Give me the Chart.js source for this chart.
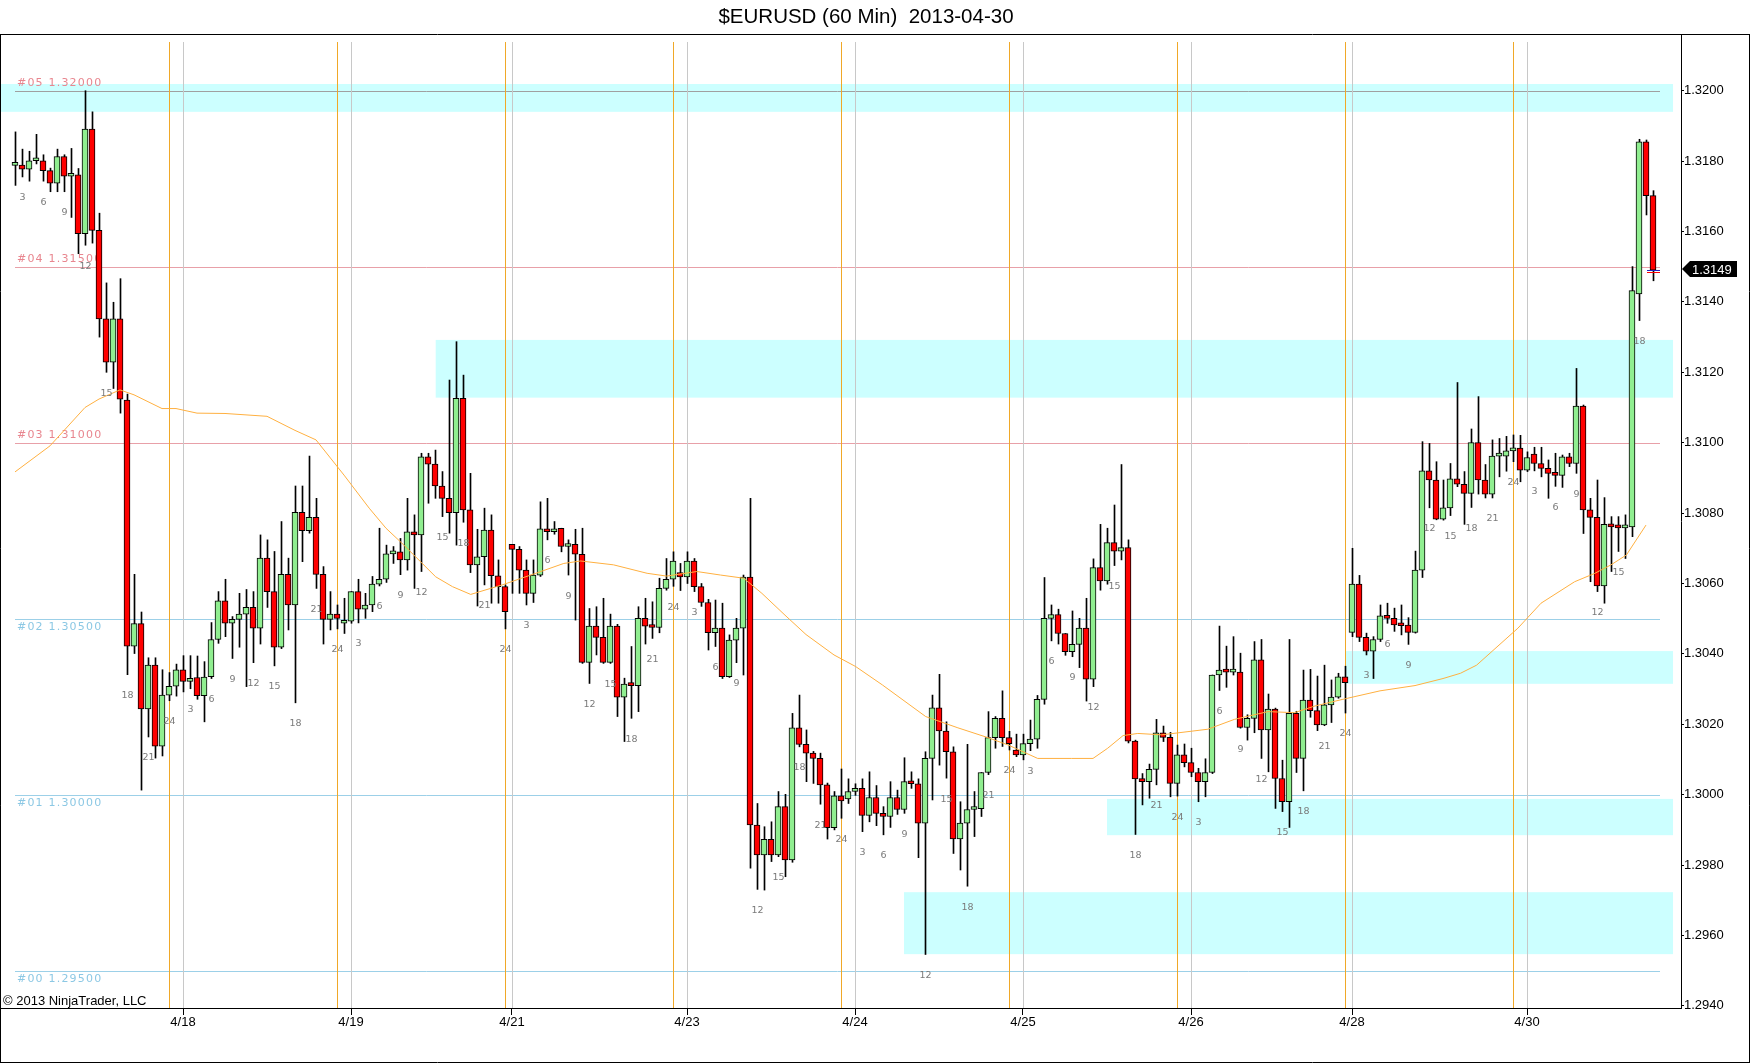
<!DOCTYPE html>
<html><head><meta charset="utf-8">
<script src="https://cdn.jsdelivr.net/npm/chart.js@4.4.1/dist/chart.umd.min.js"></script>
<style>html,body{margin:0;padding:0;background:#fff;overflow:hidden}canvas{display:block}</style>
</head><body>
<canvas id="c" width="1752" height="1064"></canvas>
<script>
const chartTitle = '$EURUSD (60 Min)  2013-04-30';
const copyrightText = '\u00A9 2013 NinjaTrader, LLC';
const firstHour = 2;
const opens = [1.31788,1.31789,1.31777,1.31801,1.31801,1.31773,1.31737,1.31813,1.31757,1.31761,1.31594,1.31891,1.31603,1.31352,1.31229,1.31352,1.31121,1.30422,1.30486,1.30244,1.30368,1.30138,1.30283,1.30308,1.30355,1.30322,1.30333,1.30281,1.30335,1.30441,1.30551,1.30487,1.30498,1.30513,1.30532,1.30473,1.30672,1.30577,1.30419,1.30626,1.30539,1.30802,1.30750,1.30788,1.30626,1.30498,1.30513,1.30487,1.30493,1.30577,1.30527,1.30539,1.30598,1.30612,1.30684,1.30690,1.30667,1.30747,1.30738,1.30960,1.30939,1.30877,1.30842,1.30801,1.31126,1.30809,1.30653,1.30676,1.30752,1.30622,1.30591,1.30711,1.30697,1.30638,1.30572,1.30624,1.30755,1.30747,1.30757,1.30705,1.30711,1.30683,1.30376,1.30479,1.30447,1.30376,1.30479,1.30277,1.30314,1.30310,1.30501,1.30479,1.30475,1.30586,1.30612,1.30631,1.30619,1.30664,1.30591,1.30546,1.30460,1.30473,1.30335,1.30439,1.30473,1.30618,1.29914,1.29829,1.29873,1.29829,1.29966,1.29815,1.30190,1.30143,1.30118,1.30103,1.30028,1.29906,1.29997,1.29988,1.30009,1.30018,1.29941,1.29992,1.29947,1.29938,1.29992,1.29958,1.30037,1.30031,1.29919,1.30103,1.30247,1.30181,1.30122,1.29874,1.29919,1.29958,1.29960,1.30063,1.30162,1.30217,1.30162,1.30127,1.30113,1.30145,1.30158,1.30271,1.30501,1.30512,1.30458,1.30406,1.30427,1.30473,1.30328,1.30645,1.30607,1.30716,1.30692,1.30702,1.30152,1.30044,1.30037,1.30072,1.30176,1.30163,1.30032,1.30113,1.30091,1.30063,1.30037,1.30063,1.30340,1.30354,1.30348,1.30348,1.30191,1.30217,1.30383,1.30184,1.30243,1.30046,1.29980,1.30231,1.30103,1.30269,1.30239,1.30198,1.30255,1.30277,1.30335,1.30461,1.30598,1.30447,1.30408,1.30441,1.30508,1.30501,1.30482,1.30482,1.30461,1.30638,1.30920,1.30894,1.30783,1.30815,1.30897,1.30882,1.30856,1.31000,1.30894,1.30854,1.30962,1.30962,1.30977,1.30985,1.30922,1.30968,1.30941,1.30927,1.30913,1.30907,1.30960,1.30941,1.31104,1.30809,1.30788,1.30593,1.30768,1.30763,1.30758,1.30761,1.31423,1.31855,1.31702];
const highs = [1.31883,1.31834,1.31828,1.31876,1.31818,1.31780,1.31834,1.31818,1.31836,1.31779,1.32000,1.31940,1.31652,1.31454,1.31399,1.31466,1.31138,1.30626,1.30519,1.30389,1.30389,1.30355,1.30347,1.30371,1.30395,1.30395,1.30394,1.30378,1.30489,1.30577,1.30612,1.30506,1.30572,1.30583,1.30577,1.30738,1.30724,1.30691,1.30776,1.30672,1.30877,1.30877,1.30962,1.30842,1.30648,1.30577,1.30539,1.30558,1.30577,1.30612,1.30572,1.30620,1.30757,1.30709,1.30705,1.30728,1.30842,1.30795,1.30970,1.30970,1.30979,1.30918,1.31178,1.31287,1.31192,1.30913,1.30754,1.30814,1.30795,1.30667,1.30596,1.30711,1.30705,1.30667,1.30667,1.30832,1.30842,1.30776,1.30757,1.30724,1.30754,1.30757,1.30529,1.30534,1.30558,1.30513,1.30484,1.30331,1.30421,1.30534,1.30558,1.30548,1.30615,1.30671,1.30690,1.30657,1.30690,1.30671,1.30600,1.30555,1.30553,1.30544,1.30454,1.30501,1.30624,1.30842,1.29975,1.29909,1.29923,1.30009,1.30001,1.30231,1.30283,1.30184,1.30123,1.30118,1.30033,1.30009,1.30073,1.30045,1.30031,1.30045,1.30065,1.30026,1.29966,1.30037,1.30013,1.30105,1.30065,1.30045,1.30122,1.30283,1.30342,1.30207,1.30136,1.29980,1.30143,1.30009,1.30063,1.30236,1.30222,1.30295,1.30180,1.30172,1.30172,1.30212,1.30282,1.30617,1.30539,1.30527,1.30458,1.30522,1.30501,1.30558,1.30670,1.30768,1.30757,1.30823,1.30938,1.30724,1.30155,1.30060,1.30087,1.30214,1.30195,1.30177,1.30141,1.30144,1.30132,1.30075,1.30102,1.30340,1.30479,1.30422,1.30449,1.30402,1.30227,1.30435,1.30441,1.30286,1.30246,1.30098,1.30441,1.30237,1.30354,1.30356,1.30337,1.30368,1.30326,1.30345,1.30365,1.30700,1.30623,1.30459,1.30449,1.30539,1.30544,1.30530,1.30539,1.30503,1.30692,1.31003,1.30998,1.30946,1.30894,1.30941,1.31171,1.30918,1.31039,1.31131,1.30938,1.31008,1.31012,1.31018,1.31022,1.31021,1.30974,1.30987,1.30987,1.30951,1.30970,1.30965,1.30970,1.31211,1.31107,1.30842,1.30894,1.30844,1.30790,1.30790,1.30795,1.31500,1.31862,1.31860,1.31716];
const lows = [1.31731,1.31755,1.31743,1.31792,1.31743,1.31713,1.31713,1.31713,1.31640,1.31537,1.31561,1.31567,1.31300,1.31200,1.31154,1.31084,1.30341,1.30401,1.30013,1.30164,1.30104,1.30110,1.30267,1.30280,1.30292,1.30301,1.30271,1.30207,1.30330,1.30430,1.30449,1.30387,1.30419,1.30307,1.30375,1.30428,1.30532,1.30366,1.30415,1.30468,1.30261,1.30662,1.30743,1.30586,1.30428,1.30468,1.30471,1.30458,1.30487,1.30488,1.30501,1.30520,1.30593,1.30603,1.30657,1.30625,1.30638,1.30586,1.30634,1.30828,1.30842,1.30790,1.30743,1.30709,1.30774,1.30631,1.30536,1.30596,1.30544,1.30544,1.30471,1.30572,1.30572,1.30539,1.30546,1.30620,1.30724,1.30740,1.30690,1.30624,1.30496,1.30373,1.30316,1.30397,1.30373,1.30373,1.30222,1.30151,1.30217,1.30236,1.30428,1.30444,1.30460,1.30581,1.30592,1.30580,1.30600,1.30577,1.30535,1.30411,1.30421,1.30330,1.30333,1.30375,1.30340,1.29791,1.29731,1.29729,1.29810,1.29824,1.29767,1.29808,1.30136,1.30037,1.30032,1.29973,1.29874,1.29900,1.29933,1.29975,1.29998,1.29895,1.29923,1.29912,1.29886,1.29907,1.29944,1.29947,1.30018,1.29821,1.29546,1.29985,1.30084,1.30047,1.29833,1.29786,1.29740,1.29881,1.29938,1.30057,1.30132,1.30137,1.30127,1.30108,1.30099,1.30125,1.30132,1.30257,1.30437,1.30428,1.30396,1.30392,1.30361,1.30266,1.30307,1.30581,1.30598,1.30651,1.30667,1.30147,1.29887,1.29971,1.29990,1.30028,1.30151,1.29994,1.29996,1.30079,1.30051,1.29980,1.29994,1.30060,1.30296,1.30305,1.30340,1.30189,1.30155,1.30176,1.30103,1.30065,1.29961,1.29952,1.29907,1.30063,1.30011,1.30220,1.30182,1.30196,1.30205,1.30274,1.30232,1.30449,1.30435,1.30397,1.30330,1.30435,1.30487,1.30464,1.30454,1.30427,1.30459,1.30617,1.30815,1.30781,1.30780,1.30793,1.30875,1.30768,1.30816,1.30854,1.30843,1.30843,1.30903,1.30919,1.30946,1.30889,1.30918,1.30920,1.30903,1.30842,1.30876,1.30873,1.30932,1.30913,1.30742,1.30605,1.30577,1.30544,1.30634,1.30691,1.30671,1.30733,1.31347,1.31647,1.31460];
const closes = [1.31790,1.31777,1.31801,1.31802,1.31773,1.31737,1.31813,1.31757,1.31760,1.31594,1.31891,1.31603,1.31352,1.31229,1.31352,1.31124,1.30422,1.30486,1.30244,1.30368,1.30138,1.30283,1.30308,1.30355,1.30322,1.30330,1.30281,1.30334,1.30441,1.30551,1.30487,1.30498,1.30513,1.30532,1.30473,1.30672,1.30577,1.30419,1.30626,1.30539,1.30802,1.30750,1.30788,1.30626,1.30498,1.30513,1.30501,1.30494,1.30577,1.30527,1.30539,1.30598,1.30612,1.30684,1.30690,1.30667,1.30747,1.30738,1.30960,1.30939,1.30877,1.30842,1.30801,1.31126,1.30809,1.30653,1.30676,1.30752,1.30622,1.30591,1.30520,1.30697,1.30638,1.30572,1.30624,1.30755,1.30747,1.30755,1.30705,1.30711,1.30683,1.30376,1.30479,1.30447,1.30376,1.30479,1.30277,1.30314,1.30310,1.30501,1.30479,1.30475,1.30586,1.30612,1.30664,1.30619,1.30664,1.30591,1.30546,1.30460,1.30473,1.30335,1.30439,1.30473,1.30618,1.29914,1.29829,1.29873,1.29829,1.29966,1.29815,1.30190,1.30143,1.30118,1.30103,1.30028,1.29906,1.29997,1.29982,1.30009,1.30018,1.29941,1.29992,1.29947,1.29938,1.29992,1.29958,1.30037,1.30031,1.29919,1.30103,1.30247,1.30181,1.30122,1.29874,1.29919,1.29958,1.29960,1.30063,1.30162,1.30217,1.30162,1.30145,1.30113,1.30145,1.30158,1.30271,1.30501,1.30512,1.30458,1.30406,1.30427,1.30473,1.30328,1.30645,1.30607,1.30716,1.30692,1.30702,1.30152,1.30045,1.30037,1.30072,1.30176,1.30163,1.30032,1.30113,1.30091,1.30063,1.30037,1.30063,1.30340,1.30354,1.30348,1.30350,1.30191,1.30217,1.30383,1.30184,1.30243,1.30046,1.29980,1.30231,1.30103,1.30269,1.30239,1.30198,1.30255,1.30277,1.30335,1.30318,1.30598,1.30447,1.30408,1.30441,1.30508,1.30501,1.30482,1.30480,1.30461,1.30638,1.30920,1.30894,1.30783,1.30815,1.30897,1.30882,1.30856,1.31000,1.30894,1.30854,1.30962,1.30963,1.30977,1.30981,1.30922,1.30958,1.30941,1.30927,1.30913,1.30907,1.30960,1.30941,1.31104,1.30809,1.30788,1.30593,1.30768,1.30761,1.30758,1.30763,1.31432,1.31855,1.31702,1.31490];
const maIndex = [0,5,10,12,15,17,21,23,26,30,36,40,43,47,50.6,53,55.3,60.1,62.5,65.1,69.6,74.4,78.4,80.8,85.5,90.3,93.1,97.4,100.8,104.1,106.7,110,113,117,120.1,123.9,130.1,134.7,139,141.9,146.1,150.9,154,156.1,158.3,160.4,163.8,170.4,174.2,179,182.8,185.7,189.7,195,200,204,206.5,208.8,214.7,218,222.8,225.7,228,230.2,233];
const maValue = [1.30917,1.30991,1.31100,1.31124,1.31150,1.31136,1.31097,1.31097,1.31084,1.31083,1.31075,1.31035,1.31008,1.30908,1.30814,1.30757,1.30714,1.30619,1.30591,1.30569,1.30596,1.30629,1.30657,1.30664,1.30653,1.30629,1.30621,1.30634,1.30624,1.30615,1.30572,1.30510,1.30455,1.30397,1.30364,1.30312,1.30222,1.30190,1.30162,1.30141,1.30103,1.30103,1.30103,1.30132,1.30168,1.30174,1.30170,1.30186,1.30214,1.30236,1.30233,1.30252,1.30271,1.30295,1.30310,1.30330,1.30345,1.30368,1.30473,1.30544,1.30605,1.30629,1.30653,1.30681,1.30766];
const yTicks = [1.2940,1.2960,1.2980,1.3000,1.3020,1.3040,1.3060,1.3080,1.3100,1.3120,1.3140,1.3160,1.3180,1.3200];
const dateTickIndex = [24,48,71,96,120,144,168,191,216];
const dateTickLabels = ['4/18','4/19','4/21','4/23','4/24','4/25','4/26','4/28','4/30'];
const sessionIndex = [22,46,70,94,118,142,166,190,214];
const levelPrices = [1.2950,1.3000,1.3050,1.3100,1.3150,1.3200];
const levelLabels = ['#00 1.29500','#01 1.30000','#02 1.30500','#03 1.31000','#04 1.31500','#05 1.32000'];
const zoneStart = [-2,60.1,190,156,127];
const zoneEnd = [236.86,236.86,236.86,236.86,236.86];
const zoneTop = [1.32019,1.31292,1.30408,1.29988,1.29723];
const zoneBottom = [1.31940,1.31128,1.30315,1.29885,1.29547];

const N = opens.length;
const IDX = Array.from({length:N},(_,i)=>i);
const UP = '#90EE90', DN = '#FF0000';

const ninja = {
  id:'ninja',
  beforeDatasetsDraw(chart){
    const ctx = chart.ctx, xs = chart.scales.x, ys = chart.scales.y, ca = chart.chartArea;
    ctx.save();
    ctx.fillStyle = '#CCFFFF';
    for(let k=0;k<zoneTop.length;k++){
      const x0 = Math.max(ca.left, xs.getPixelForValue(zoneStart[k]));
      const x1 = xs.getPixelForValue(zoneEnd[k]);
      const y0 = ys.getPixelForValue(zoneTop[k]), y1 = ys.getPixelForValue(zoneBottom[k]);
      ctx.fillRect(x0, y0, x1-x0, y1-y0);
    }
    const lx0 = xs.getPixelForValue(0), lx1 = xs.getPixelForValue(235);
    ctx.lineWidth = 1;
    levelPrices.forEach((p,k)=>{
      const y = Math.round(ys.getPixelForValue(p))+0.5;
      let lc, tc, above;
      if(p>=1.3199){lc='#A0A0A0'; tc='#E8868F'; above=true;}
      else if(p>1.3075){lc='#E8A0A8'; tc='#E8868F'; above=true;}
      else {lc='#9CD0E8'; tc='#8CC8E4'; above=false;}
      ctx.strokeStyle = lc;
      ctx.beginPath(); ctx.moveTo(lx0,y); ctx.lineTo(lx1,y); ctx.stroke();
      ctx.fillStyle = tc;
      ctx.font = '11px "DejaVu Sans"';
      ctx.letterSpacing = '1.2px';
      ctx.textAlign='left';
      ctx.textBaseline = above ? 'alphabetic' : 'top';
      ctx.fillText(levelLabels[k], 17, above ? y-6 : y+2);
      ctx.letterSpacing = '0px';
    });
    const vTop = 42, vBot = ca.bottom;
    ctx.strokeStyle = '#F0A828';
    sessionIndex.forEach(i=>{
      const x = Math.round(xs.getPixelForValue(i))+0.5;
      ctx.beginPath(); ctx.moveTo(x,vTop); ctx.lineTo(x,vBot); ctx.stroke();
    });
    ctx.strokeStyle = '#C8C8C8';
    dateTickIndex.forEach(i=>{
      const x = Math.round(xs.getPixelForValue(i))+0.5;
      ctx.beginPath(); ctx.moveTo(x,vTop); ctx.lineTo(x,vBot); ctx.stroke();
    });
    ctx.restore();
  },
  afterDatasetsDraw(chart){
    const ctx = chart.ctx, xs = chart.scales.x, ys = chart.scales.y;
    ctx.save();
    ctx.font = '9.5px "DejaVu Sans"';
    ctx.fillStyle = '#7A7A7A';
    ctx.textAlign = 'center'; ctx.textBaseline='middle';
    for(let i=0;i<N;i++){
      const h = (i+firstHour)%24;
      if(h%3!==0) continue;
      const lab = h===0 ? '24' : String(h);
      ctx.fillText(lab, xs.getPixelForValue(i)+0.5, ys.getPixelForValue(lows[i])+21);
    }
    const lx = xs.getPixelForValue(N-1), ly = Math.round(ys.getPixelForValue(closes[N-1]))+0.5;
    ctx.strokeStyle='#2020C0'; ctx.lineWidth=1;
    ctx.beginPath(); ctx.moveTo(lx-6,ly); ctx.lineTo(lx+7,ly); ctx.stroke();
    ctx.strokeStyle='#FF0000';
    ctx.beginPath(); ctx.moveTo(lx-6,ly+2); ctx.lineTo(lx+7,ly+2); ctx.stroke();
    ctx.restore();
  },
  afterDraw(chart){
    const ctx = chart.ctx, ys = chart.scales.y, ca = chart.chartArea;
    ctx.save();
    ctx.fillStyle='#000';
    ctx.font = '20.5px "Liberation Sans"';
    ctx.textAlign='center'; ctx.textBaseline='middle';
    ctx.fillText(chartTitle, 866, 17);
    ctx.font = '13px "Liberation Sans"';
    ctx.textAlign='left'; ctx.textBaseline='alphabetic';
    ctx.fillText(copyrightText, 3, 1005);
    ctx.strokeStyle='#000'; ctx.lineWidth=1;
    ctx.beginPath();
    ctx.moveTo(0,34.5); ctx.lineTo(1750,34.5);
    ctx.moveTo(0.5,34.5); ctx.lineTo(0.5,1063);
    ctx.moveTo(1749.5,34.5); ctx.lineTo(1749.5,1063);
    ctx.moveTo(0,1062.5); ctx.lineTo(1750,1062.5);
    ctx.moveTo(0,ca.bottom+0.5); ctx.lineTo(ca.right,ca.bottom+0.5);
    ctx.stroke();
    const last = closes[N-1];
    const yc = Math.round(ys.getPixelForValue(last))-1;
    ctx.fillStyle='#000';
    ctx.beginPath();
    ctx.moveTo(ca.right+1, yc); ctx.lineTo(ca.right+9, yc-8); ctx.lineTo(ca.right+56, yc-8);
    ctx.lineTo(ca.right+56, yc+8); ctx.lineTo(ca.right+9, yc+8); ctx.closePath(); ctx.fill();
    ctx.fillStyle='#fff';
    ctx.font='13px "Liberation Sans"';
    ctx.textAlign='left'; ctx.textBaseline='middle';
    ctx.fillText(last.toFixed(4), ca.right+11, yc+1);
    ctx.restore();
  }
};

const yMin = 1.293940, yMax = 1.321611;
const xMin = -2, xMax = 238;

new Chart(document.getElementById('c'), {
  data: {
    datasets: [
      { type:'line', label:'MA', data: maIndex.map((v,k)=>({x:v,y:maValue[k]})), borderColor:'#FFB040', borderWidth:1, pointRadius:0, tension:0, order:1, xAxisID:'x', yAxisID:'y' },
      { type:'bar', label:'body', data: IDX.map(i=>({x:i,y:[opens[i],closes[i]]})), backgroundColor: IDX.map(i=>closes[i]>=opens[i]?UP:DN), borderColor:'#000', borderWidth:1, borderSkipped:false, barThickness:6, minBarLength:3, grouped:false, order:2, xAxisID:'x', yAxisID:'y' },
      { type:'bar', label:'wick', data: IDX.map(i=>({x:i,y:[lows[i],highs[i]]})), backgroundColor:'#000', borderWidth:0, barThickness:1, grouped:false, order:3, xAxisID:'xw', yAxisID:'y' }
    ]
  },
  options: {
    responsive:false, animation:false, devicePixelRatio:1,
    layout:{ padding:{ left:1, right:3, top:34, bottom:2 } },
    plugins:{ legend:{display:false}, tooltip:{enabled:false}, title:{display:false} },
    scales:{
      x:{ type:'linear', min:xMin, max:xMax, offset:false,
          afterBuildTicks: s=>{ s.ticks = dateTickIndex.map(v=>({value:v})); },
          ticks:{ autoSkip:false, maxRotation:0, padding:0, color:'#000', font:{family:'Liberation Sans', size:13},
                  callback:(v)=>{ const k=dateTickIndex.indexOf(v); return k>=0?dateTickLabels[k]:''; } },
          grid:{ offset:false, drawOnChartArea:false, drawTicks:true, tickLength:7, color:'#000' },
          border:{ display:true, color:'#000' },
          afterFit: s=>{ s.height = 54; } },
      xw:{ type:'linear', axis:'x', display:false, offset:false, grid:{offset:false}, min:xMin-0.5/7, max:xMax-0.5/7 },
      y:{ type:'linear', position:'right', min:yMin, max:yMax,
          afterBuildTicks: s=>{ s.ticks = yTicks.map(v=>({value:v})); },
          ticks:{ padding:0, color:'#000', font:{family:'Liberation Sans', size:13}, callback:v=>Number(v).toFixed(4) },
          grid:{ drawOnChartArea:false, drawTicks:true, tickLength:3, color:'#000' },
          border:{ display:true, color:'#000' },
          afterFit: s=>{ s.width = 68; } }
    }
  },
  plugins:[ninja]
});
</script>
</body></html>
